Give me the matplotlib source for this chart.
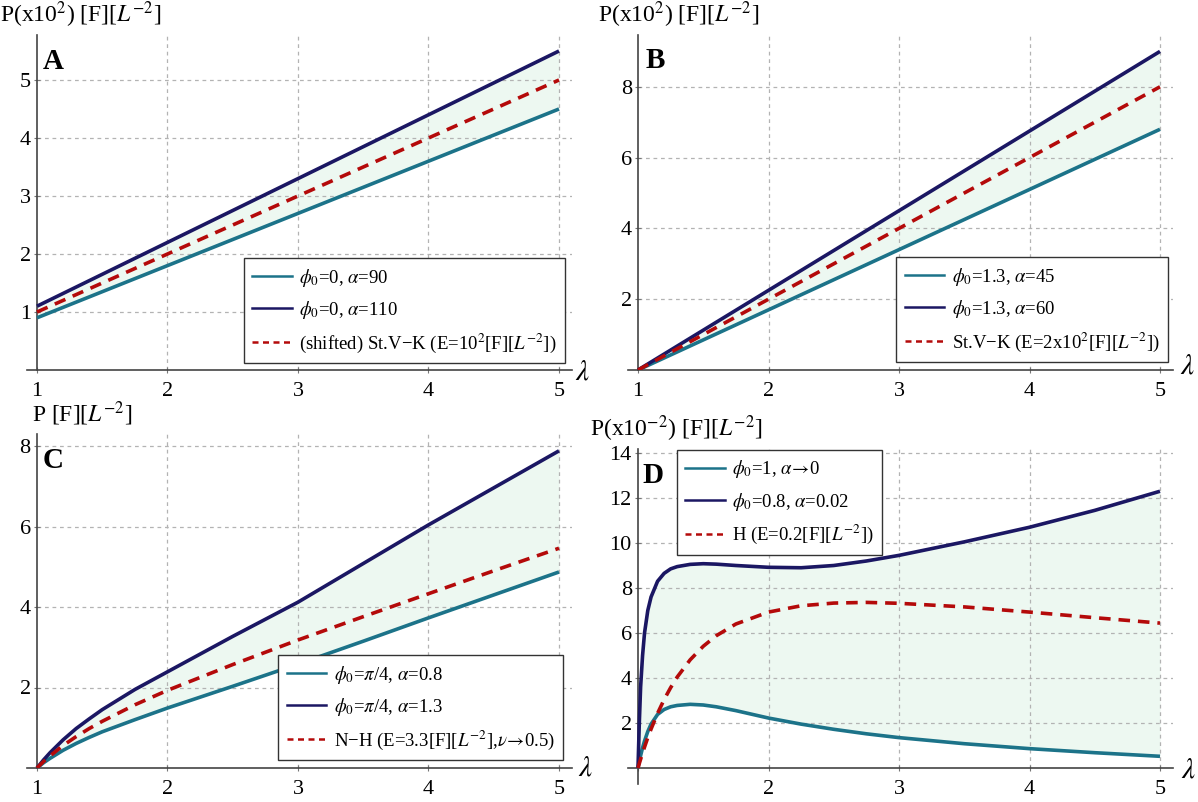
import matplotlib
matplotlib.use('Agg')
import matplotlib.pyplot as plt
from matplotlib.lines import Line2D

plt.rcParams['font.family'] = ['Liberation Serif', 'DejaVu Serif']
plt.rcParams['mathtext.fontset'] = 'stix'

# ---- data ----
lam_a = [1, 2, 3, 4, 5]
teal_a = [0.9, 1.8, 2.7, 3.6, 4.5]
navy_a = [1.1, 2.2, 3.3, 4.4, 5.5]
red_a = [1.0, 2.0, 3.0, 4.0, 5.0]

lam_b = [1, 2, 3, 4, 5]
teal_b = [0, 1.7, 3.4, 5.1, 6.8]
navy_b = [0, 2.25, 4.5, 6.75, 9.0]
red_b = [0, 2.0, 4.0, 6.0, 8.0]

lam_c = [1.0, 1.05, 1.1, 1.2, 1.3, 1.4, 1.5, 1.75, 2.0, 2.5, 3.0, 3.5, 4.0, 4.5, 5.0]
teal_c = [0, 0.13, 0.24, 0.44, 0.61, 0.76, 0.90, 1.20, 1.49, 2.03, 2.58, 3.15, 3.73, 4.30, 4.87]
navy_c = [0, 0.20, 0.38, 0.70, 0.98, 1.22, 1.45, 1.95, 2.39, 3.27, 4.12, 5.08, 6.04, 6.96, 7.88]
red_c = [0, 0.16, 0.30, 0.56, 0.78, 0.98, 1.16, 1.57, 1.93, 2.57, 3.18, 3.76, 4.33, 4.90, 5.46]

lam_d = [1.0, 1.01, 1.02, 1.035, 1.05, 1.075, 1.1, 1.15, 1.2, 1.25, 1.3, 1.4, 1.5, 1.6, 1.75,
         2.0, 2.25, 2.5, 2.75, 3.0, 3.5, 4.0, 4.5, 5.0]
teal_d = [0, 0.30, 0.55, 0.90, 1.20, 1.62, 1.95, 2.38, 2.60, 2.72, 2.78, 2.83, 2.80, 2.72, 2.55,
          2.22, 1.95, 1.72, 1.52, 1.35, 1.08, 0.86, 0.68, 0.52]
navy_d = [0, 2.0, 3.6, 5.0, 6.0, 7.0, 7.6, 8.3, 8.65, 8.85, 8.95, 9.05, 9.08, 9.06, 9.0,
          8.92, 8.9, 9.0, 9.2, 9.45, 10.05, 10.7, 11.45, 12.3]
red_d = [0, 0.20, 0.39, 0.67, 0.93, 1.35, 1.73, 2.43, 3.04, 3.57, 4.04, 4.81, 5.41, 5.88, 6.40,
         6.93, 7.21, 7.33, 7.36, 7.32, 7.16, 6.93, 6.68, 6.44]

leg_a = [r'$\phi_0$=0, $\alpha$=90', r'$\phi_0$=0, $\alpha$=110',
         r'(shifted) St.V−K (E=10$^2$[F][$L^{-2}$])']
leg_b = [r'$\phi_0$=1.3, $\alpha$=45', r'$\phi_0$=1.3, $\alpha$=60',
         r'St.V−K (E=2x10$^2$[F][$L^{-2}$])']
leg_c = [r'$\phi_0$=$\pi$/4, $\alpha$=0.8', r'$\phi_0$=$\pi$/4, $\alpha$=1.3',
         r'N−H (E=3.3[F][$L^{-2}$],$\nu\!\rightarrow\!$0.5)']
leg_d = [r'$\phi_0$=1, $\alpha\!\rightarrow\!$0', r'$\phi_0$=0.8, $\alpha$=0.02',
         r'H (E=0.2[F][$L^{-2}$])']

ylab_a = r'P(x10$^2$) [F][$L^{-2}$]'
ylab_b = r'P(x10$^2$) [F][$L^{-2}$]'
ylab_c = r'P [F][$L^{-2}$]'
ylab_d = r'P(x10$^{-2}$) [F][$L^{-2}$]'

xticks = [1, 2, 3, 4, 5]
yticks_a = [1, 2, 3, 4, 5]
yticks_b = [2, 4, 6, 8]
yticks_c = [2, 4, 6, 8]
yticks_d = [2, 4, 6, 8, 10, 12, 14]

TEAL = '#1c7389'
NAVY = '#1b1763'
RED = '#b40a0a'
FILL = '#edf8f1'
GRID = '#b3b3b3'

W, H = 1198, 802
fig = plt.figure(figsize=(W / 100, H / 100), dpi=100)
XMIN, XMAX = 0.92, 5.1


def add_panel(x0, y0, ypu, ylim, xppu=130.5):
    left = x0 + (XMIN - 1) * xppu
    right = x0 + (XMAX - 1) * xppu
    bottom = y0 - ylim[0] * ypu
    top = y0 - ylim[1] * ypu
    return fig.add_axes([left / W, 1 - bottom / H, (right - left) / W, (bottom - top) / H])


def draw(ax, lam, teal, navy, red, labels, yticks, ylim, xlabels, leg_loc, leg_anchor):
    ax.set_xlim(XMIN, XMAX)
    ax.set_ylim(*ylim)
    ax.fill_between(lam, teal, navy, color=FILL, lw=0, zorder=1)
    for t in yticks:
        ax.hlines(t, 1, XMAX, colors=GRID, linestyles=(0, (3, 3)), lw=0.9, zorder=1.5)
    for t in xticks[1:]:
        ax.vlines(t, 0, ylim[1], colors=GRID, linestyles=(0, (3, 3)), lw=0.9, zorder=1.5)
    ax.plot(lam, teal, color=TEAL, lw=2.6, zorder=3, solid_capstyle='butt')
    ax.plot(lam, navy, color=NAVY, lw=2.6, zorder=3, solid_capstyle='butt')
    ax.plot(lam, red, color=RED, lw=2.6, dashes=(3.2, 2.2), zorder=4)

    for s in ['top', 'right']:
        ax.spines[s].set_visible(False)
    ax.spines['left'].set_position(('data', 1))
    ax.spines['bottom'].set_position(('data', 0))
    for s in ['left', 'bottom']:
        ax.spines[s].set_color('#444444')
        ax.spines[s].set_linewidth(1.2)
    ax.set_facecolor('none')

    ax.set_xticks(xticks)
    ax.set_xticklabels(xlabels)
    ax.set_yticks(yticks)
    ax.set_yticklabels([str(t) for t in yticks])
    ax.tick_params(axis='both', direction='inout', length=5, width=0.8,
                   color='#777777', labelsize=16)
    ax.tick_params(axis='x', pad=6)
    ax.tick_params(axis='y', pad=2)

    handles = [Line2D([], [], color=TEAL, lw=1.8),
               Line2D([], [], color=NAVY, lw=1.8),
               Line2D([], [], color=RED, lw=1.8, dashes=(2.4, 1.8))]
    leg = ax.legend(handles, labels, loc=leg_loc,
                    bbox_to_anchor=(leg_anchor[0] / W, 1 - leg_anchor[1] / H),
                    bbox_transform=fig.transFigure, fontsize=13.5, fancybox=False,
                    framealpha=1, edgecolor='#333333', borderaxespad=0,
                    handlelength=2.1, handletextpad=0.4, labelspacing=0.55,
                    borderpad=0.45)
    leg.get_frame().set_linewidth(1.0)
    leg.set_zorder(10)


ax_a = add_panel(37, 370, 58.0, (0, 5.78))
draw(ax_a, lam_a, teal_a, navy_a, red_a, leg_a, yticks_a, (0, 5.78),
     ['1', '2', '3', '4', '5'], 'lower right', (565, 363))

ax_b = add_panel(638, 370, 35.4, (0, 9.45))
draw(ax_b, lam_b, teal_b, navy_b, red_b, leg_b, yticks_b, (0, 9.45),
     ['1', '2', '3', '4', '5'], 'lower right', (1168, 362))

ax_c = add_panel(37, 768, 40.25, (0, 8.3))
draw(ax_c, lam_c, teal_c, navy_c, red_c, leg_c, yticks_c, (0, 8.3),
     ['1', '2', '3', '4', '5'], 'lower right', (563, 760))

ax_d = add_panel(638, 768, 22.5, (-0.7, 14.2))
draw(ax_d, lam_d, teal_d, navy_d, red_d, leg_d, yticks_d, (-0.7, 14.2),
     ['', '2', '3', '4', '5'], 'upper left', (677, 450))

# panel letters
for txt, px, py in [('A', 43, 69), ('B', 646, 68), ('C', 43, 468), ('D', 642, 483)]:
    fig.text(px / W, 1 - py / H, txt, fontsize=21, fontweight='bold', va='baseline')

# y-axis labels
for txt, px, py in [(ylab_a, 0, 22), (ylab_b, 598, 22), (ylab_c, 32, 422), (ylab_d, 590, 436)]:
    fig.text(px / W, 1 - py / H, txt, fontsize=17, va='baseline', ha='left')

# lambda labels
for px, py in [(582, 373), (1187, 366), (585, 768), (1188, 770)]:
    fig.text(px / W, 1 - py / H, r'$\lambda$', fontsize=21, va='center', ha='center')

fig.savefig('out.png', dpi=100)
